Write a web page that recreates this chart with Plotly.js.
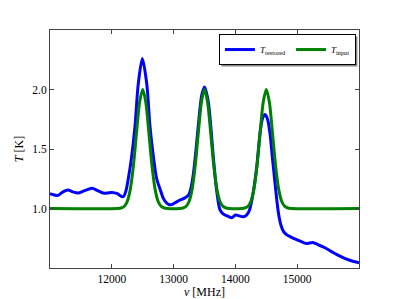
<!DOCTYPE html>
<html><head><meta charset="utf-8">
<script src="https://cdn.plot.ly/plotly-3.0.1.min.js"></script>
<style>html,body{margin:0;padding:0;background:#fff;}#c{width:399px;height:299px;}</style>
</head><body><div id="c"></div>
<script>
// Recovered (blue) curve samples, frequency in MHz and temperature in K
const freqRestored = [11000,11060,11130,11210,11290,11370,11450,11560,11680,11770,11860,11930,12000,12090,12160,12195,12230,12270,12322,12375,12429,12494,12565,12618,12672,12726,12780,12830,12880,12930,12970,13030,13100,13170,13238,13280,13320,13360,13400,13455,13500,13562,13600,13643,13697,13750,13800,13858,13940,14000,14050,14128,14180,14220,14250,14290,14345,14400,14440,14480,14520,14560,14600,14640,14670,14700,14740,14780,14830,14900,14980,15050,15150,15250,15350,15450,15550,15650,15750,15850,15950,16000];
const tempRestored = [1.125,1.115,1.11,1.14,1.155,1.14,1.13,1.15,1.17,1.15,1.13,1.13,1.135,1.125,1.10,1.105,1.15,1.26,1.44,1.69,2.05,2.26,2.05,1.69,1.44,1.25,1.165,1.09,1.05,1.032,1.033,1.05,1.07,1.085,1.11,1.17,1.29,1.48,1.70,1.95,2.02,1.895,1.70,1.43,1.15,0.99,0.955,0.94,0.923,0.945,0.94,0.93,0.945,0.975,1.03,1.14,1.35,1.64,1.76,1.79,1.75,1.63,1.42,1.22,1.07,0.95,0.855,0.805,0.78,0.76,0.74,0.725,0.705,0.715,0.693,0.67,0.64,0.61,0.585,0.565,0.55,0.545];
// Input (green) curve samples
const freqInput = [11000,12100,12150,12200,12250,12300,12350,12400,12450,12500,12550,12600,12650,12700,12750,12800,12850,12900,13100,13150,13200,13250,13300,13350,13400,13450,13500,13550,13600,13650,13700,13750,13800,13850,13900,14100,14150,14200,14250,14300,14350,14400,14450,14500,14550,14600,14650,14700,14750,14800,14850,14900,16000];
const tempInput = [1.0,1.0,1.004,1.017,1.059,1.163,1.36,1.635,1.893,2.0,1.893,1.635,1.36,1.163,1.059,1.017,1.004,1.0,1.0,1.004,1.017,1.059,1.163,1.36,1.635,1.893,2.0,1.893,1.635,1.36,1.163,1.059,1.017,1.004,1.0,1.0,1.004,1.017,1.059,1.163,1.36,1.635,1.893,2.0,1.893,1.635,1.36,1.163,1.059,1.017,1.004,1.0,1.0];
const xTicks = [12000,13000,14000,15000];
const xTickText = ["12000","13000","14000","15000"];
const yTicks = [1.0,1.5,2.0];
const yTickText = ["1.0","1.5","2.0"];

const serif = "Liberation Serif, DejaVu Serif, serif";
const traces = [
  {x: freqRestored, y: tempRestored, mode: "lines", name: "<i>T</i><sub>restored</sub>",
   line: {color: "#0000ff", width: 3, shape: "spline", smoothing: 0.8}},
  {x: freqInput, y: tempInput, mode: "lines", name: "<i>T</i><sub>input</sub>",
   line: {color: "#008000", width: 3, shape: "spline", smoothing: 0.8}}
];
const axCommon = {showgrid: false, zeroline: false, showline: true, linecolor: "#444", linewidth: 1,
  mirror: "ticks", ticks: "inside", ticklen: 4, tickcolor: "#444", tickfont: {family: serif, size: 11.5, color: "#000"}};
const layout = {
  width: 399, height: 299, margin: {l: 50, r: 40, t: 30, b: 31},
  paper_bgcolor: "#fff", plot_bgcolor: "#fff", showlegend: true,
  xaxis: Object.assign({}, axCommon, {range: [11000, 16000], tickvals: xTicks, ticktext: xTickText,
    title: {text: "<i>ν</i> [MHz]", font: {family: serif, size: 12, color: "#000"}, standoff: 2}}),
  yaxis: Object.assign({}, axCommon, {range: [0.5, 2.5], tickvals: yTicks, ticktext: yTickText,
    title: {text: "<i>T</i> [K]", font: {family: serif, size: 12, color: "#000"}, standoff: 6}}),
  legend: {orientation: "h", x: 0.99, xanchor: "right", y: 0.983, yanchor: "top",
    bgcolor: "#fff", bordercolor: "#000", borderwidth: 1, font: {family: serif, size: 9, color: "#000"},
    itemwidth: 30, tracegroupgap: 0},
  shapes: [{type: "rect", xref: "paper", yref: "paper", x0: 0.6246, x1: 0.9968, y0: 0.9118, y1: 0.9748,
    fillcolor: "#888", line: {width: 0}, layer: "above"}]
};
Plotly.newPlot("c", traces, layout, {staticPlot: true, displayModeBar: false}).then(function(){
  // align the shadow with the rendered legend box
  const bg = document.querySelector(".legend .bg");
  if (!bg) return;
  const lb = bg.getBoundingClientRect();
  const fl = {x: 50, y: 30, w: 309, h: 238};
  const x0 = (lb.left + 2 - fl.x) / fl.w, x1 = (lb.right + 2 - fl.x) / fl.w;
  const y1 = 1 - (lb.top + 2 - fl.y) / fl.h, y0 = 1 - (lb.bottom + 2 - fl.y) / fl.h;
  Plotly.relayout("c", {"shapes[0].x0": x0, "shapes[0].x1": x1, "shapes[0].y0": y0, "shapes[0].y1": y1});
});
</script></body></html>
